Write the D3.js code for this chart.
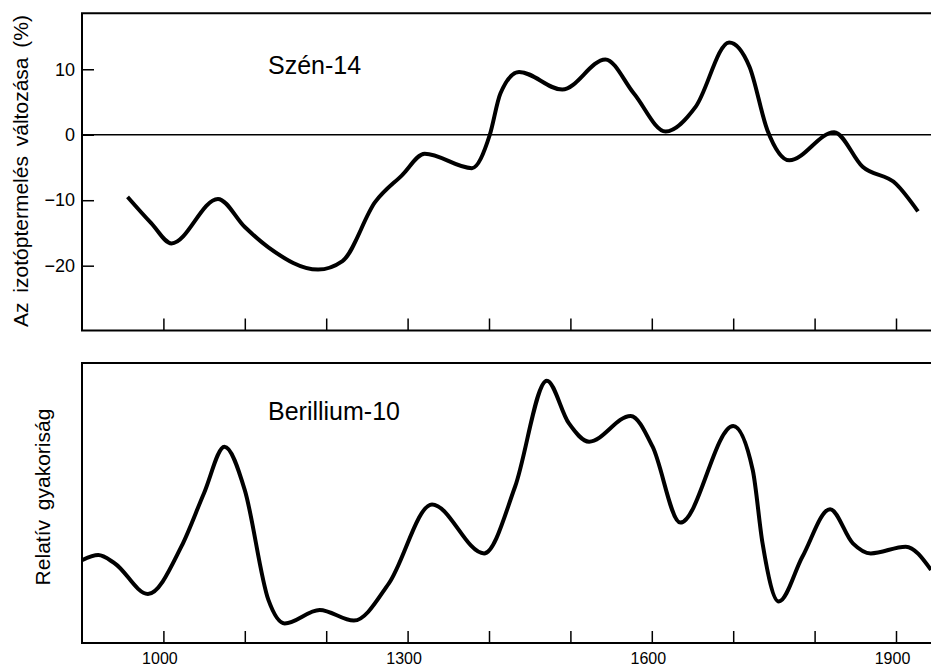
<!DOCTYPE html>
<html>
<head>
<meta charset="utf-8">
<script src="https://cdn.jsdelivr.net/npm/d3@7"></script>
<style>
  body { margin: 0; background: #fff; }
  text { font-family: "Liberation Sans", Arial, sans-serif; fill: #000; }
</style>
</head>
<body>
<svg id="sketch"></svg>
<script>
// Szén-14 (percent change of isotope production)
var c14Years = [956, 985, 1010, 1067, 1100, 1129, 1190, 1220, 1260, 1293, 1321, 1379, 1401, 1414, 1437, 1490, 1543, 1578, 1617, 1654, 1695, 1720, 1742, 1769, 1824, 1859, 1900, 1927];
var c14Values = [-9.5, -13.5, -16.6, -9.8, -14.1, -17.2, -20.6, -19.3, -10.3, -6.2, -2.9, -5.1, 0, 6.3, 9.6, 6.9, 11.5, 6.3, 0.5, 4.3, 14.1, 10.4, 0.7, -3.9, 0.4, -4.9, -7.5, -11.7];

// Berillium-10 (relative frequency, 0 = bottom of panel, 100 = top)
var beYears = [900, 920, 940, 981, 1022, 1050, 1075, 1100, 1129, 1149, 1192, 1234, 1277, 1330, 1394, 1432, 1471, 1498, 1523, 1574, 1601, 1635, 1700, 1724, 1736, 1756, 1785, 1819, 1847, 1869, 1912, 1943];
var beValues = [29.6, 31.4, 28.5, 17.5, 34.4, 53.6, 70.1, 54.6, 15.4, 7.0, 11.8, 8.0, 21.3, 49.5, 32.0, 55.8, 93.7, 78.5, 71.9, 81.1, 70.1, 43.0, 77.5, 61.8, 35.7, 14.8, 30.8, 47.8, 35.6, 32.0, 34.4, 26.1];

var xTicks = [1000, 1100, 1200, 1300, 1400, 1500, 1600, 1700, 1800, 1900];
var xLabels = [1000, 1300, 1600, 1900];
var c14Ticks = [10, 0, -10, -20];

function draw() {
    var W = 931, H = 668;
    var svg = d3.select('#sketch').attr('width', W).attr('height', H);

    var x = d3.scaleLinear().domain([900, 1943]).range([82, 931]);
    var yTop = d3.scaleLinear().domain([-29.9, 18.55]).range([330.5, 13.3]);
    var yBot = d3.scaleLinear().domain([0, 100]).range([643, 363]);

    var curve = d3.curveMonotoneX;

    // ---- top panel ----
    var top = svg.append('g');

    top.append('g')
	.attr('transform', 'translate(82,0)')
	.call(d3.axisLeft(yTop).tickValues(c14Ticks).tickSize(-12).tickPadding(7))
	.call(function(g) { g.select('.domain').remove(); })
	.call(function(g) {
	    g.selectAll('line').attr('stroke', '#000').attr('stroke-width', 1.5);
	    g.selectAll('text').style('font-size', '18px').style('font-family', 'Liberation Sans, Arial, sans-serif');
	});

    top.append('g')
	.attr('transform', 'translate(0,330.5)')
	.call(d3.axisBottom(x).tickValues(xTicks).tickSize(-12).tickFormat(''))
	.call(function(g) { g.select('.domain').remove(); })
	.call(function(g) { g.selectAll('line').attr('stroke', '#000').attr('stroke-width', 1.5); });

    // frame (no right side)
    top.append('path')
	.attr('d', 'M' + W + ',' + yTop.range()[1] + 'H82V' + yTop.range()[0] + 'H' + W)
	.attr('fill', 'none').attr('stroke', '#000').attr('stroke-width', 2);

    // zero line
    top.append('line')
	.attr('x1', 82).attr('x2', W)
	.attr('y1', yTop(0)).attr('y2', yTop(0))
	.attr('stroke', '#000').attr('stroke-width', 1.5);

    top.append('path')
	.datum(c14Years)
	.attr('d', d3.line().x(function(d) { return x(d); })
	      .y(function(d, i) { return yTop(c14Values[i]); }).curve(curve))
	.attr('fill', 'none').attr('stroke', '#000').attr('stroke-width', 4)
	.attr('stroke-linejoin', 'round');

    top.append('text')
	.attr('x', 268).attr('y', 74)
	.text('Szén-14')
	.style('font-size', '25px');

    top.append('text')
	.attr('transform', 'translate(28,' + 171 + ') rotate(-90)')
	.attr('text-anchor', 'middle')
	.style('font-size', '21px')
	.style('word-spacing', '4px')
	.text('Az izotóptermelés változása (%)');

    // ---- bottom panel ----
    var bot = svg.append('g');

    bot.append('g')
	.attr('transform', 'translate(0,643)')
	.call(d3.axisBottom(x).tickValues(xTicks).tickSize(-12).tickPadding(10)
	      .tickFormat(function(d) { return xLabels.indexOf(d) >= 0 ? String(d) : ''; }))
	.call(function(g) { g.select('.domain').remove(); })
	.call(function(g) {
	    g.selectAll('line').attr('stroke', '#000').attr('stroke-width', 1.5);
	    g.selectAll('text').attr('dx', -4).style('font-size', '16px').style('font-family', 'Liberation Sans, Arial, sans-serif');
	});

    bot.append('path')
	.attr('d', 'M' + W + ',' + yBot.range()[1] + 'H82V' + yBot.range()[0] + 'H' + W)
	.attr('fill', 'none').attr('stroke', '#000').attr('stroke-width', 2);

    bot.append('clipPath').attr('id', 'clipBot')
	.append('rect').attr('x', 82).attr('y', 363).attr('width', W - 82).attr('height', 280);

    bot.append('path')
	.datum(beYears)
	.attr('clip-path', 'url(#clipBot)')
	.attr('d', d3.line().x(function(d) { return x(d); })
	      .y(function(d, i) { return yBot(beValues[i]); }).curve(curve))
	.attr('fill', 'none').attr('stroke', '#000').attr('stroke-width', 4)
	.attr('stroke-linejoin', 'round');

    bot.append('text')
	.attr('x', 268).attr('y', 420)
	.text('Berillium-10')
	.style('font-size', '25px');

    bot.append('text')
	.attr('transform', 'translate(50,' + 497 + ') rotate(-90)')
	.attr('text-anchor', 'middle')
	.style('font-size', '21px')
	.style('word-spacing', '4px')
	.text('Relatív gyakoriság');
}

draw();
</script>
</body>
</html>
